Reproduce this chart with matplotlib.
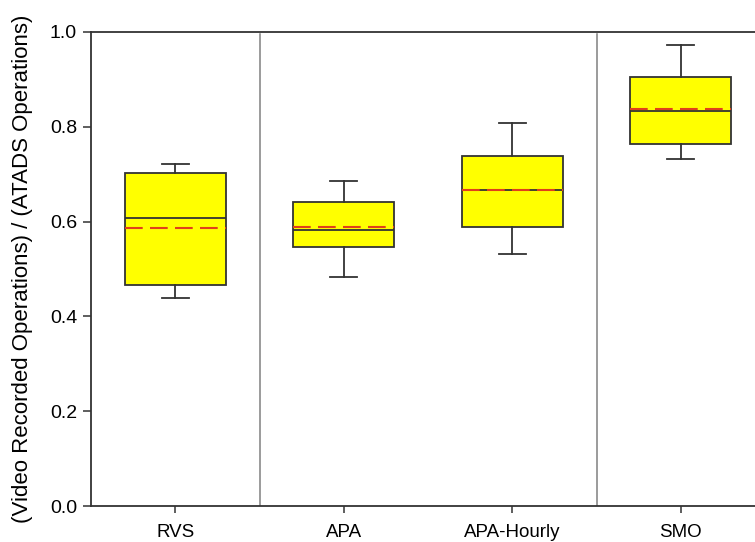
import matplotlib.pyplot as plt

# ── data ─────────────────────────────────────────────────────
groups    = ['RVS', 'APA', 'APA-Hourly', 'SMO']
whis_low  = [0.439, 0.484, 0.531, 0.733]
q1        = [0.467, 0.547, 0.588, 0.763]
medians   = [0.608, 0.582, 0.667, 0.833]
means     = [0.586, 0.588, 0.667, 0.838]
q3        = [0.703, 0.642, 0.739, 0.904]
whis_high = [0.721, 0.686, 0.807, 0.973]
separators = [1.5, 3.5]

plt.rcParams['font.family'] = ['Liberation Sans', 'DejaVu Sans']
plt.rcParams['font.size'] = 14

fig = plt.figure(figsize=(7.55, 5.42), dpi=100)
ax = fig.add_axes([0.1205, 0.0664, 0.893, 0.8746])

stats = [dict(label=g, whislo=lo, q1=a, med=m, mean=mu, q3=b, whishi=hi)
         for g, lo, a, m, mu, b, hi in zip(groups, whis_low, q1, medians,
                                             means, q3, whis_high)]
ax.bxp(stats, positions=range(1, len(groups) + 1), widths=0.6,
       patch_artist=True, showmeans=True, meanline=True, showfliers=False,
       boxprops=dict(facecolor='#ffff00', edgecolor='#333333', linewidth=1.3),
       medianprops=dict(color='#333333', linewidth=1.3),
       meanprops=dict(color='#e0401a', linewidth=1.5, linestyle=(0, (8.5, 3.5))),
       whiskerprops=dict(color='#333333', linewidth=1.3),
       capprops=dict(color='#333333', linewidth=1.3), capwidths=0.16)

for s in separators:
    ax.axvline(s, ymin=0, ymax=0.995, color='#808080', lw=1.1)

ax.set_xlim(0.5, 4.5)
ax.set_ylim(0, 1.0)
ax.set_yticks([0.0, 0.2, 0.4, 0.6, 0.8, 1.0])
ax.set_yticklabels(['0.0', '0.2', '0.4', '0.6', '0.8', '1.0'])
ax.set_xticks(range(1, len(groups) + 1))
ax.set_xticklabels(groups, fontsize=13.5)
ax.tick_params(axis='both', direction='out', color='#333333', width=1.1)
ax.tick_params(axis='y', length=6, pad=4)
ax.tick_params(axis='x', length=5, pad=8)
for sp in ax.spines.values():
    sp.set_color('#333333')
    sp.set_linewidth(1.3)
ax.set_ylabel('(Video Recorded Operations) / (ATADS Operations)',
              fontsize=16, labelpad=12)

fig.savefig('out.png', dpi=100)
